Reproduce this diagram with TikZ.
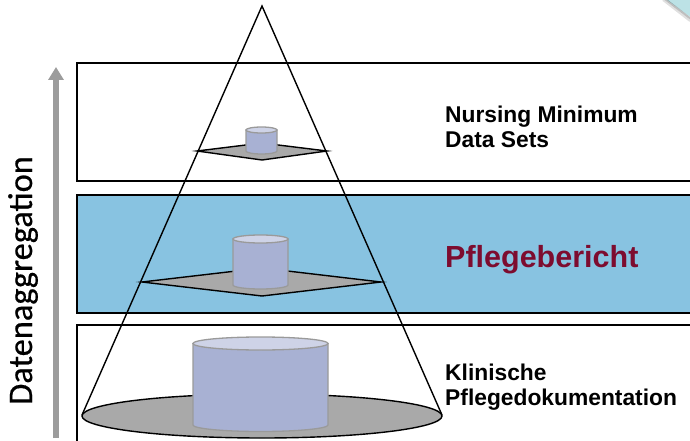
\documentclass[tikz,border=0pt]{standalone}
\usepackage{fontspec}
\setmainfont{Liberation Sans}
\newfontfamily\achsenschrift[FakeBold=0.5]{Carlito}
\usepackage{xcolor}
\usepackage{tikz}
\usetikzlibrary{arrows.meta}
\definecolor{hellblau}{HTML}{88C3E1}
\definecolor{weinrot}{HTML}{7D0C2F}
\definecolor{dbkoerper}{HTML}{A8B1D3}
\definecolor{dbdeckel}{HTML}{CED3E7}
\definecolor{dbrand}{HTML}{9A9A9A}
\definecolor{flaeche}{HTML}{A9A9A9}
\definecolor{pfeilgrau}{HTML}{9C9C9C}
\definecolor{ecke}{HTML}{BCE2E6}
\tikzset{
  Ebene/.style={draw=black, line width=1.4pt}, % Rahmen der Ebenen
  Kegel/.style={draw=black, line width=1.4pt},  % Mantellinien
  Raute/.style={draw=black, fill=flaeche, line width=1.4pt, line join=miter}, % Grundflaechen
  Zylinder/.style={draw=dbrand, line width=1.3pt}, % Datenbanken
  Beschriftung/.style={anchor=base west, align=left, inner sep=0pt,
    font={\bfseries\fontsize{22.8}{24.5}\selectfont}},
  Aggregation/.style={draw=pfeilgrau, line width=6pt, -{Triangle[width=15pt,length=13pt]}}
}
% Datenbank: #1 x-Mitte, #2 y oben, #3 y unten, #4 Radius x, #5 Radius y
\newcommand{\Datenbank}[5]{%
  \filldraw[Zylinder, fill=dbkoerper] (#1-#4,#2) -- (#1-#4,#3)
    .. controls (#1-#4,#3+0.55*#5) and (#1-0.55*#4,#3+#5) .. (#1,#3+#5)
    .. controls (#1+0.55*#4,#3+#5) and (#1+#4,#3+0.55*#5) .. (#1+#4,#3)
    -- (#1+#4,#2) -- cycle;
  \filldraw[Zylinder, fill=dbdeckel] (#1,#2) ellipse [x radius=#4, y radius=#5];
}

\begin{document}
\begin{tikzpicture}[x=1pt, y=-1pt, >=latex]
\useasboundingbox (0,0) rectangle (690,441);
\clip (0,0) rectangle (690,441);

%Ebenen
\draw[Ebene, fill=white] (77,63) rectangle (705,181);
\draw[Ebene, fill=hellblau] (77,195) rectangle (705,313);
\draw[Ebene, fill=white] (77,325) rectangle (705,460);

%Eckmarke oben rechts
\fill[ecke] (667,0) -- (692,0) -- (692,18) -- cycle;
\draw[black, opacity=0.25, line width=2pt] (665,-1) -- (691,19);
\draw[black, opacity=0.12, line width=2pt] (663,0) -- (690,21);

%Pfeil
\coordinate (PfeilUnten) at (56,438);
\coordinate (PfeilOben) at (56,67);
\draw[Aggregation] (PfeilUnten) -- (PfeilOben);
\node[rotate=90, anchor=base, inner sep=0pt,
  font=\achsenschrift\fontsize{34.4}{40}\selectfont] (achse) at (32,280.5) {Datenaggregation};

%Kegel
\coordinate (Spitze) at (262,6);
\coordinate (KL) at (82,415);
\coordinate (KR) at (442,415);
\filldraw[Raute] (262,416) ellipse [x radius=180, y radius=22];
\Datenbank{260.5}{343.5}{425}{67.5}{6.5}
\draw[Kegel] (KL) -- (Spitze) -- (KR);

%Grundflaechen der oberen Ebenen
\filldraw[Raute] (197,151) -- (262,143) -- (327,151) -- (262,160) -- cycle;
\filldraw[Raute] (142,282) -- (262,268) -- (381,282) -- (262,296) -- cycle;

%Datenbanken
\Datenbank{261.5}{130}{151}{15.5}{3}
\Datenbank{260.5}{239}{285}{27.5}{4}

%Beschriftungen (Basis = letzte Zeile)
\node[Beschriftung] (nmds) at (445,147) {Nursing Minimum\\Data Sets};
\node[Beschriftung, text=weinrot, font={\bfseries\fontsize{30.5}{34}\selectfont}] (pb) at (445,267) {Pflegebericht};
\node[Beschriftung] (kpd) at (445,405) {Klinische\\Pflegedokumentation};
\end{tikzpicture}
\end{document}
